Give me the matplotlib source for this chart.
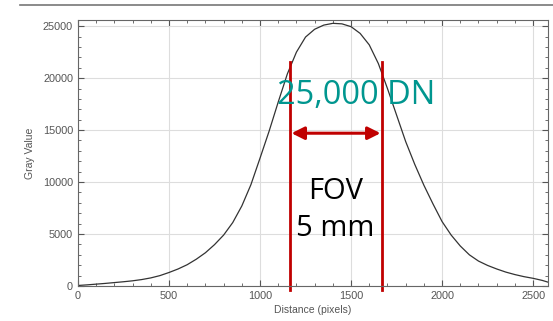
#!/usr/bin/env python3
"""Gray value line profile with FOV annotation."""
import matplotlib
matplotlib.use("Agg")
import matplotlib.pyplot as plt
from matplotlib.ticker import MultipleLocator

# profile
distance = [0, 50, 100, 150, 200, 250, 300, 350, 400, 450, 500, 550, 600,
            650, 700, 750, 800, 850, 900, 950, 1000, 1050, 1100, 1150, 1200,
            1250, 1300, 1350, 1400, 1450, 1500, 1550, 1600, 1650, 1700, 1750,
            1800, 1850, 1900, 1950, 2000, 2050, 2100, 2150, 2200, 2250, 2300,
            2350, 2400, 2450, 2500, 2550, 2584]
gray = [50, 110, 180, 250, 330, 410, 500, 620, 780, 1000, 1300, 1640, 2050,
        2580, 3200, 3980, 4900, 6100, 7700, 9750, 12300, 14900, 17700, 20400,
        22500, 23950, 24700, 25100, 25270, 25220, 24950, 24300, 23200, 21400,
        19000, 16450, 13900, 11700, 9700, 7900, 6200, 4900, 3850, 3000, 2400,
        1980, 1640, 1340, 1100, 900, 740, 540, 360]

fov_edges = [1163, 1672]
fov_top = 21540
arrow_y = 14700
peak_label = "25,000 DN"
fov_label = "FOV\n5 mm"

RED = "#C00000"
TEAL = "#00968F"


def main():
    fig = plt.figure(figsize=(5.53, 3.21), dpi=100)
    ax = fig.add_axes([0.141, 0.109, 0.850, 0.829])

    ax.plot(distance, gray, color="#333333", lw=0.9)

    ax.set_xlim(0, 2582)
    ax.set_ylim(0, 25600)
    ax.xaxis.set_major_locator(MultipleLocator(500))
    ax.xaxis.set_minor_locator(MultipleLocator(100))
    ax.yaxis.set_major_locator(MultipleLocator(5000))
    ax.yaxis.set_minor_locator(MultipleLocator(1000))
    ax.grid(True, which="major", color="#dddddd", lw=0.8)
    ax.set_axisbelow(True)
    ax.tick_params(which="both", direction="in", top=True, right=True,
                   colors="#555555", labelsize=7.8, labelcolor="#555555")
    ax.tick_params(which="major", length=4)
    ax.tick_params(which="minor", length=2.5)
    for sp in ax.spines.values():
        sp.set_color("#666666")

    ax.set_xlabel("Distance (pixels)", fontsize=7.5, color="#555555",
                  family="Liberation Sans", labelpad=3)
    ax.set_ylabel("Gray Value", fontsize=7.5, color="#555555",
                  family="Liberation Sans", labelpad=6)
    for lab in ax.get_xticklabels() + ax.get_yticklabels():
        lab.set_family("Liberation Sans")

    for x in fov_edges:
        ax.plot([x, x], [-400, fov_top], color=RED, lw=2, clip_on=False)
    ax.annotate("", xy=(fov_edges[0] + 10, arrow_y),
                xytext=(fov_edges[1] - 10, arrow_y),
                arrowprops=dict(arrowstyle="<|-|>", color=RED, lw=2.2,
                                mutation_scale=19, shrinkA=0, shrinkB=0))

    ax.text(1527, 18365, peak_label, color=TEAL, fontsize=23.5,
            family="Open Sans", ha="center", va="center")
    ax.text(1414, 7300, fov_label, color="black", fontsize=21,
            family="Open Sans", ha="center", va="center", linespacing=1.38)

    # slide rule line above the chart
    fig.add_artist(plt.Line2D([20 / 553, 1], [1 - 5 / 321, 1 - 5 / 321],
                              color="#777777", lw=1.2))

    fig.savefig("out.png", dpi=100, facecolor="white")


if __name__ == "__main__":
    main()
